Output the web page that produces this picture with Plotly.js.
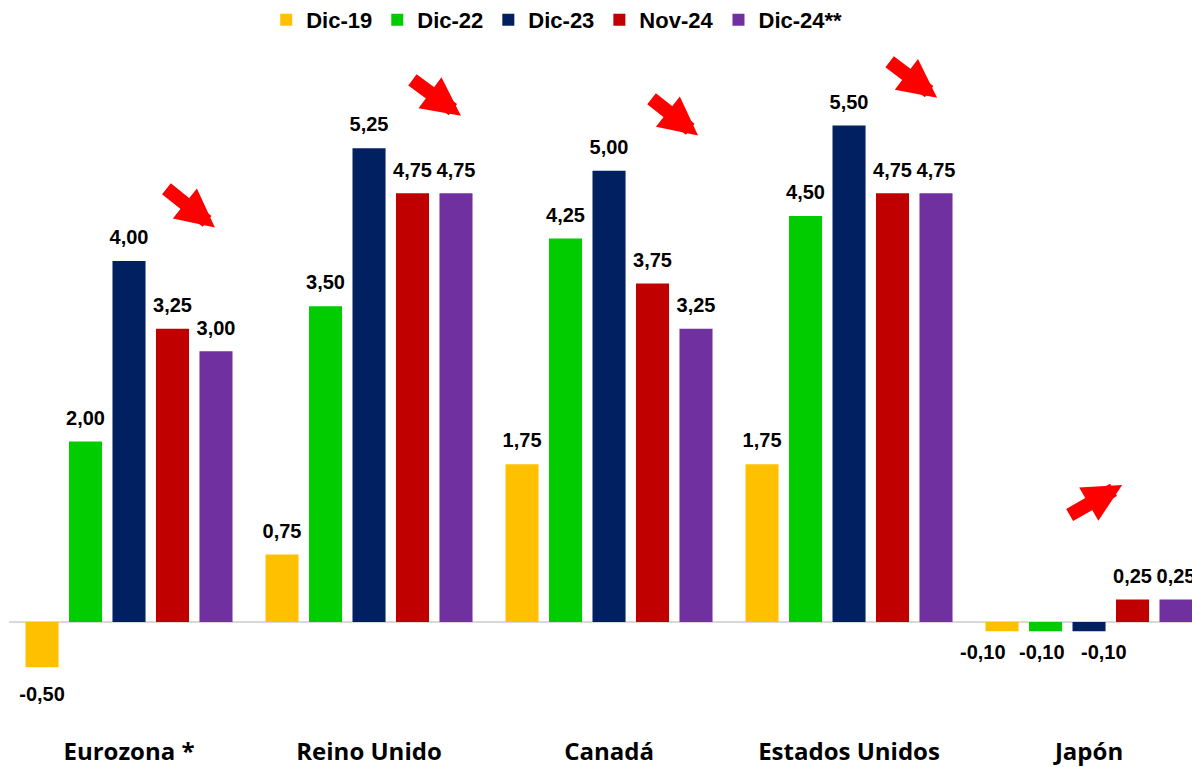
<!DOCTYPE html>
<html><head><meta charset="utf-8">
<script src="https://cdn.plot.ly/plotly-3.0.1.min.js"></script>
<style>html,body{margin:0;padding:0;background:#fff}#c{width:1192px;height:767px}</style>
</head><body><div id="c"></div>
<script>
const categories = ['Eurozona *','Reino Unido','Canadá','Estados Unidos','Japón'];
const seriesNames = ['Dic-19','Dic-22','Dic-23','Nov-24','Dic-24**'];
const dic19 = [-0.50, 0.75, 1.75, 1.75, -0.10];
const dic22 = [2.00, 3.50, 4.25, 4.50, -0.10];
const dic23 = [4.00, 5.25, 5.00, 5.50, -0.10];
const nov24 = [3.25, 4.75, 3.75, 4.75, 0.25];
const dic24 = [3.00, 4.75, 3.25, 4.75, 0.25];
const colors = ['#FFC000','#00CC00','#002060','#C00000','#7030A0'];
const values = [dic19, dic22, dic23, nov24, dic24];

const FONT = 'Liberation Sans, Arial, sans-serif';
const fmt = v => v.toFixed(2).replace('.', ',');
const big = s => '<span style="font-size:20px">' + s + '</span>';
// Japan's three small negative labels are spread apart (as in the reference) via annotations
const spread = {0: -106, 1: -47, 2: 15};
const isSpread = (i, j) => categories[j] === 'Japón' && values[i][j] < 0 && (i in spread);

const traces = values.map((vals, i) => ({
  type: 'bar', name: seriesNames[i], x: categories, y: vals,
  marker: {color: colors[i]},
  text: vals.map((v, j) => isSpread(i, j) ? '' : (v < 0 ? ' <br>' + big(fmt(v)) : big(fmt(v)) + '<br> ')),
  textposition: 'outside', textangle: 0, constraintext: 'none', cliponaxis: true,
  textfont: {family: FONT, size: vals.map(v => v < 0 ? 14 : 9), color: '#000', weight: 'bold'},
  hoverinfo: 'skip'
}));

const annotations = [];
values.forEach((vals, i) => vals.forEach((v, j) => {
  if (isSpread(i, j)) annotations.push({
    x: categories[j], y: v, xref: 'x', yref: 'y', xshift: spread[i], yshift: -8, yanchor: 'top',
    text: fmt(v), showarrow: false, font: {family: FONT, size: 20, color: '#000', weight: 'bold'}
  });
}));

// decorative arrows: [head x (category units), head y (value units), tail dx px, tail dy px]
const arrows = [[0.358,4.37,-50,-40],[1.383,5.61,-50,-37],[2.371,5.39,-48,-38],[3.367,5.81,-49,-37],[4.138,1.52,-54,31]];
arrows.forEach(a => annotations.push({
  x: a[0], y: a[1], xref: 'x', yref: 'y', ax: a[2], ay: a[3], text: '',
  showarrow: true, arrowhead: 2, arrowsize: 0.55, arrowwidth: 14, arrowcolor: '#FF0000'
}));

const layout = {
  width: 1192, height: 767,
  margin: {l: 9, r: 0, t: 40, b: 52},
  paper_bgcolor: '#fff', plot_bgcolor: '#fff',
  barmode: 'group', bargap: 0.094, bargroupgap: 0.24,
  showlegend: true,
  legend: {orientation: 'h', x: 0.463, xanchor: 'center', yref: 'container', y: 0.974, yanchor: 'middle',
           font: {family: FONT, size: 22, color: '#000', weight: 'bold'}, itemwidth: 30, traceorder: 'normal'},
  xaxis: {range: [-0.5, 4.429], type: 'category', showgrid: false, showline: false, zeroline: false, ticks: '',
          tickfont: {family: 'Open Sans, sans-serif', size: 24, color: '#000', weight: 'bold'}, ticklabelstandoff: 20},
  yaxis: {range: [-1.029, 6.438], showgrid: false, showticklabels: false, zeroline: true, zerolinecolor: '#D9D9D9', zerolinewidth: 2, showline: false, ticks: ''},
  annotations: annotations,
  separators: ',.'
};
Plotly.newPlot('c', traces, layout, {displayModeBar: false, staticPlot: true});
</script></body></html>
